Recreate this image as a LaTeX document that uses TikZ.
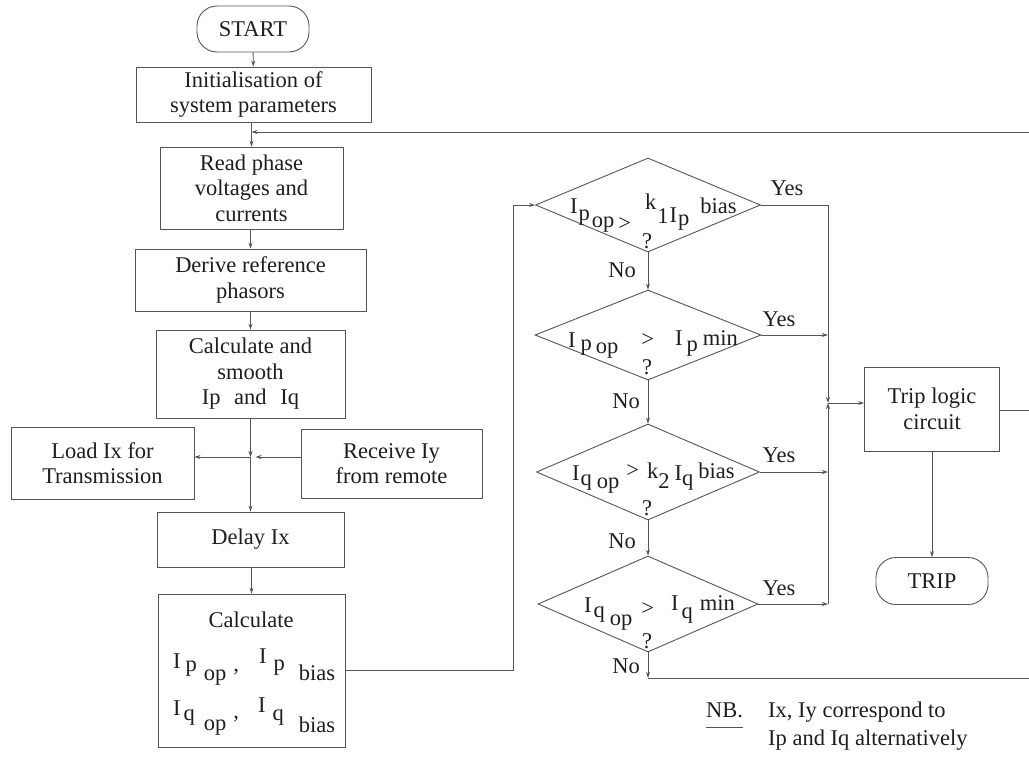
\documentclass[tikz,border=0pt]{standalone}
\usepackage{fontspec}
\setmainfont{LiberationSerif}[Extension=.ttf, UprightFont=*-Regular, BoldFont=*-Bold, ItalicFont=*-Italic]
\usetikzlibrary{arrows.meta,shapes.geometric}
\definecolor{linec}{HTML}{555555}
\definecolor{inkc}{HTML}{1E1E1E}
% shift a piece of a formula up (positive) or down (negative), in pt
\newcommand{\sh}[2]{\raisebox{#1pt}{#2}}
\newcommand{\hs}[1]{\hspace{#1pt}}
\begin{document}
\begin{tikzpicture}[x=1pt,y=-1pt,
  every node/.style={font=\fontsize{22.5}{25.5}\selectfont, text=inkc},
  box/.style={draw=linec, line width=0.9pt, inner sep=0pt, align=center},
  term/.style={box, rounded corners=20pt},
  dec/.style={draw=linec, line width=0.9pt, diamond, inner sep=0pt},
  lbl/.style={inner sep=0pt},
  formula/.style={inner sep=0pt, anchor=base west},
  link/.style={draw=linec, line width=0.9pt},
  arr/.style={link, -{Stealth[length=6pt,width=4pt]}},
]
\useasboundingbox (0,0) rectangle (1029,758);

% ---- main processing column ----
\node[term, minimum width=112pt, minimum height=46pt] (start) at (253,29) {START};
\node[box, minimum width=235pt, minimum height=55pt] (init) at (253.5,94.5) {Initialisation of\\system parameters};
\node[box, minimum width=183pt, minimum height=82pt] (read) at (251.5,188) {Read phase\\voltages and\\currents};
\node[box, minimum width=231pt, minimum height=62pt] (derive) at (250.5,280) {Derive reference\\phasors};
\node[box, minimum width=189pt, minimum height=88pt] (calc1) at (250.5,374) {Calculate and\\smooth\\Ip\hs{8} and\hs{8} Iq};
\node[box, minimum width=183pt, minimum height=72pt] (load) at (102.5,463) {Load Ix for\\Transmission};
\node[box, minimum width=181pt, minimum height=69pt] (recv) at (391.5,463.5) {Receive Iy\\from remote};
\node[box, minimum width=187pt, minimum height=55pt] (delay) at (250.5,539.5) {Delay Ix};
\node[box, minimum width=187pt, minimum height=153pt] (calc2) at (251.5,670.5) {};
\node[lbl, anchor=base] (calc2t) at (251,627) {Calculate};
\node[formula] (calc2a) at (173,668) {I\hs{5}\sh{-3}{p}\hs{7}\sh{-12}{op}\hs{7}\sh{-3}{,}\hs{20}\sh{5}{I}\hs{7}\sh{-2}{p}\hs{14}\sh{-12}{bias}};
\node[formula] (calc2b) at (173,715) {I\hs{3}\sh{-5}{q}\hs{9}\sh{-15}{op}\hs{7}\sh{-3}{,}\hs{19}\sh{3}{I}\hs{7}\sh{-5}{q}\hs{15}\sh{-17}{bias}};

% ---- decision chain ----
\node[dec, minimum width=225pt, minimum height=94pt] (d1) at (648,205) {};
\node[dec, minimum width=226pt, minimum height=90pt] (d2) at (648,335) {};
\node[dec, minimum width=223pt, minimum height=96pt] (d3) at (648,472) {};
\node[dec, minimum width=220pt, minimum height=96pt] (d4) at (648,604) {};

\node[formula] (f1) at (570,213) {I\hs{1}\sh{-7}{p}\hs{2}\sh{-14}{op}\hs{4}\sh{-17}{>}\hs{14}\sh{4}{k}\hs{1}\sh{-10}{1}\hs{1}\sh{-9}{I}\hs{1}\sh{-12}{p}\hs{11}bias};
\node[formula] (f2) at (568,347) {I\hs{5}\sh{-3}{p}\hs{4}\sh{-6}{op}\hs{23}\sh{1}{>}\hs{21}\sh{2}{I}\hs{4}\sh{-4}{p}\hs{5}\sh{2}{min}};
\node[formula] (f3) at (572,480) {I\hs{1}\sh{-5}{q}\hs{5}\sh{-8}{op}\hs{7}\sh{3}{>}\hs{8}\sh{2}{k}\hs{0}\sh{-8}{2}\hs{5}I\hs{0}\sh{-5}{q}\hs{5}\sh{2}{bias}};
\node[formula] (f4) at (584,612) {I\hs{2}\sh{-5}{q}\hs{5}\sh{-13}{op}\hs{9}\sh{-3}{>}\hs{17}\sh{2}{I}\hs{3}\sh{-6}{q}\hs{7}\sh{2}{min}};

\node[lbl] (q1) at (647,241) {?};
\node[lbl] (q2) at (647,367) {?};
\node[lbl] (q3) at (647,508) {?};
\node[lbl] (q4) at (647,641) {?};

\node[lbl] (y1) at (787,188) {Yes};
\node[lbl] (y2) at (779,319) {Yes};
\node[lbl] (y3) at (779,455) {Yes};
\node[lbl] (y4) at (779,588) {Yes};
\node[lbl] (n1) at (622,270) {No};
\node[lbl] (n2) at (626,401) {No};
\node[lbl] (n3) at (622,541) {No};
\node[lbl] (n4) at (626,666) {No};

% ---- trip section ----
\node[box, minimum width=135pt, minimum height=84pt] (trip) at (932,409) {Trip logic\\circuit};
\node[term, minimum width=112pt, minimum height=47pt] (tripend) at (932,581) {TRIP};

% ---- note ----
\node[formula] (nb) at (706,717) {NB.};
\node[formula] (nb1) at (768,717) {Ix, Iy correspond to};
\node[formula] (nb2) at (768,745) {Ip and Iq alternatively};
\draw[link] ([yshift=-10pt]nb.base west) -- ([yshift=-10pt]nb.base east);

% ---- junction points ----
\coordinate (fbj) at (251.5,132);
\coordinate (fbr) at (1029,132);
\coordinate (jn) at (250.5,457);
\coordinate (lb) at (513,670.5);
\coordinate (lt) at (513,205);
\coordinate (ctop) at (828,205);
\coordinate (cbot) at (828,604);
\coordinate (tj) at (828,403);
\coordinate (rtr) at (1029,410);
\coordinate (nob) at (648,678);
\coordinate (nor) at (1029,678);

% ---- connectors ----
\draw[arr] (start) -- (init);
\draw[arr] (init.south -| read.north) -- (read.north);
\draw[arr] (fbr) -- (fbj);
\draw[arr] (read.south -| derive.north) -- (derive.north);
\draw[arr] (derive.south) -- (calc1.north);
\draw[arr] (calc1.south) -- (jn);
\draw[arr] (jn) -- (load.east |- jn);
\draw[arr] (recv.west |- jn) -- ([xshift=5pt]jn);
\draw[arr] (jn) -- (delay.north);
\draw[arr] (delay.south -| calc2.north) -- (calc2.north);
\draw[arr] (calc2.east) -- (lb) -- (lt) -- (d1.west);

\draw[arr] (d1.south) -- (d2.north);
\draw[arr] (d2.south) -- (d3.north);
\draw[arr] (d3.south) -- (d4.north);
\draw[arr] (d4.south) -- (nob);
\draw[link] (nob) -- (nor);

\draw[link] (d1.east) -- (ctop);
\draw[arr] (ctop) -- (tj);
\draw[arr] (d2.east) -- (d2.east -| ctop);
\draw[arr] (d3.east) -- (d3.east -| ctop);
\draw[arr] (d4.east) -- (cbot);
\draw[arr] (cbot) -- (tj);
\draw[arr] (tj) -- (trip.west |- tj);
\draw[link] (trip.east |- rtr) -- (rtr);
\draw[arr] (trip.south) -- (tripend.north);
\end{tikzpicture}
\end{document}
